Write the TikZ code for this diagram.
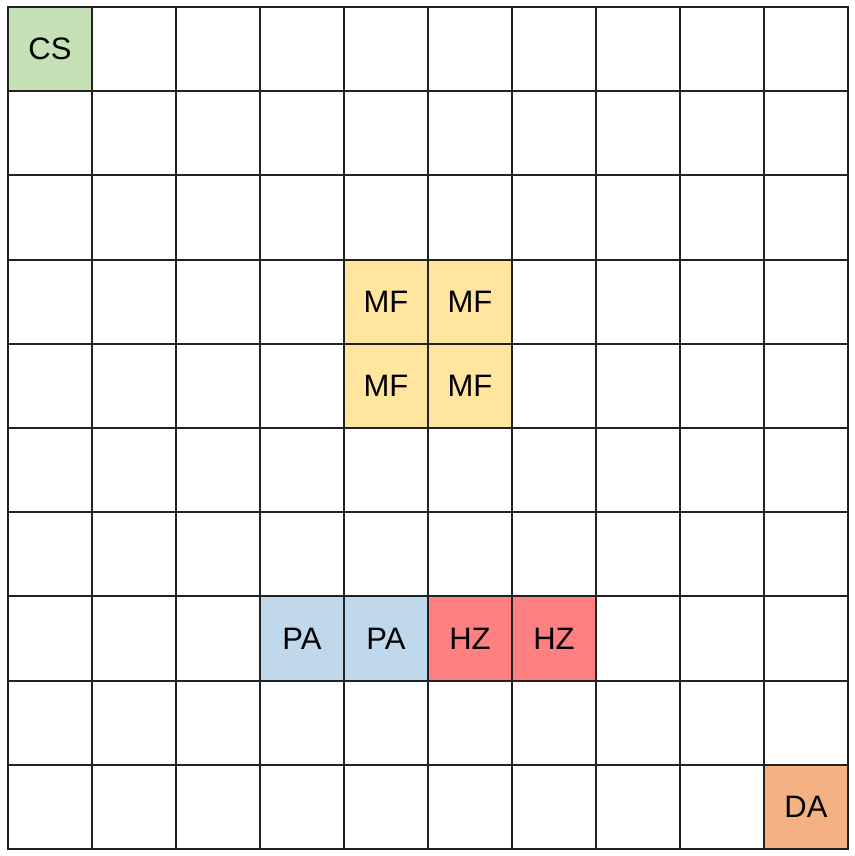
\documentclass[tikz,border=0pt]{standalone}
\usepackage{fontspec}
\setmainfont{Liberation Sans}
\definecolor{csfill}{HTML}{C5E1B5}
\definecolor{mffill}{HTML}{FFE59E}
\definecolor{pafill}{HTML}{BFD8EC}
\definecolor{hzfill}{HTML}{FF8080}
\definecolor{dafill}{HTML}{F4B183}
\definecolor{gridc}{HTML}{222222}
\begin{document}
\begin{tikzpicture}[x=1pt,y=1pt,
  cell/.style={minimum width=84pt,minimum height=84.2pt,inner sep=0pt,outer sep=0pt,anchor=north west,font=\fontsize{31}{31}\selectfont},
  gridline/.style={gridc,line width=2pt,line cap=rect}]
\useasboundingbox (0,0) rectangle (854,856);
\def\cw{84}\def\ch{84.2}
% colored cells
\node[cell,fill=csfill] (cs) at (8+0*\cw,849-0*\ch) {CS};
\node[cell,fill=mffill] (mf1) at (8+4*\cw,849-3*\ch) {MF};
\node[cell,fill=mffill] (mf2) at (8+5*\cw,849-3*\ch) {MF};
\node[cell,fill=mffill] (mf3) at (8+4*\cw,849-4*\ch) {MF};
\node[cell,fill=mffill] (mf4) at (8+5*\cw,849-4*\ch) {MF};
\node[cell,fill=pafill] (pa1) at (8+3*\cw,849-7*\ch) {PA};
\node[cell,fill=pafill] (pa2) at (8+4*\cw,849-7*\ch) {PA};
\node[cell,fill=hzfill] (hz1) at (8+5*\cw,849-7*\ch) {HZ};
\node[cell,fill=hzfill] (hz2) at (8+6*\cw,849-7*\ch) {HZ};
\node[cell,fill=dafill] (da) at (8+9*\cw,849-9*\ch) {DA};
% grid
\foreach \i in {0,...,10} {
  \draw[gridline] (8+\i*\cw,849) -- (8+\i*\cw,849-10*\ch);
  \draw[gridline] (8,849-\i*\ch) -- (8+10*\cw,849-\i*\ch);
}
\end{tikzpicture}
\end{document}
